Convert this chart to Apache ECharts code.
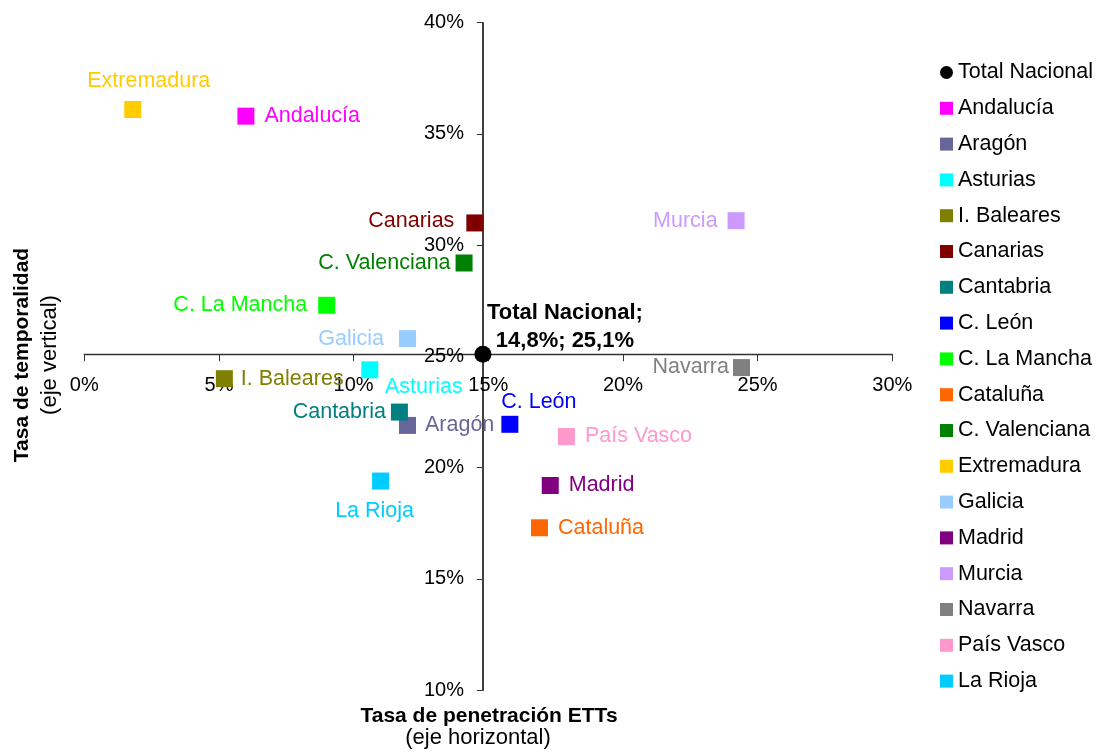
<!DOCTYPE html>
<html>
<head>
<meta charset="utf-8">
<script src="https://cdn.jsdelivr.net/npm/echarts@6/dist/echarts.min.js"></script>
<style>html,body{margin:0;padding:0;background:#fff;}#c{width:1100px;height:754px;}</style>
</head>
<body>
<div id="c"></div>
<script>
// ---- data ----
const names = ['Total Nacional','Andalucía','Aragón','Asturias','I. Baleares','Canarias','Cantabria','C. León','C. La Mancha','Cataluña','C. Valenciana','Extremadura','Galicia','Madrid','Murcia','Navarra','País Vasco','La Rioja'];
const penetracion = [14.8, 6.0, 12.0, 10.6, 5.2, 14.5, 11.7, 15.8, 9.0, 16.9, 14.1, 1.8, 12.0, 17.3, 24.2, 24.4, 17.9, 11.0];
const temporalidad = [25.1, 35.8, 21.9, 24.4, 24.0, 31.0, 22.5, 21.95, 27.3, 17.3, 29.2, 36.1, 25.8, 19.2, 31.1, 24.5, 21.4, 19.4];
const xTicks = [0, 5, 10, 15, 20, 25, 30];
const yTicks = [10, 15, 20, 25, 30, 35, 40];

// ---- styles ----
const colors = ['#000000','#FF00FF','#666699','#00FFFF','#808000','#800000','#008080','#0000FF','#00FF00','#FF6600','#008000','#FFCC00','#99CCFF','#800080','#CC99FF','#808080','#FF99CC','#00CCFF'];
const labelCfg = [
  {position:'inside', offset:[82,-27]},
  {position:'right', distance:10},
  {position:'right', distance:9},
  {position:'inside', offset:[54,17]},
  {position:'right', distance:8},
  {position:'left', distance:12, offset:[0,-2]},
  {position:'left', distance:5},
  {position:'inside', offset:[29,-22]},
  {position:'left', distance:11},
  {position:'right', distance:10},
  {position:'left', distance:5},
  {position:'inside', offset:[16,-28]},
  {position:'left', distance:15},
  {position:'right', distance:10},
  {position:'left', distance:10},
  {position:'left', distance:4},
  {position:'right', distance:10},
  {position:'inside', offset:[-6,30]}
];

const FONT = "'Liberation Sans', Arial, sans-serif";
const W = 1100, H = 754;
const gLeft = 84.3, gRight = 207.7, gTop = 22.7, gBottom = 63.8;
const gW = W - gLeft - gRight, gH = H - gTop - gBottom;
const xMin = xTicks[0], xMax = xTicks[xTicks.length-1];
const yMin = yTicks[0], yMax = yTicks[yTicks.length-1];
const crossX = penetracion[0], crossY = temporalidad[0];

const fmt = v => v.toFixed(1).replace('.', ',') + '%';

const series = names.map((n, i) => {
  const isTotal = i === 0;
  const lc = labelCfg[i];
  return {
    name: n,
    type: 'scatter',
    symbol: isTotal ? 'circle' : 'rect',
    symbolSize: 17,
    z: isTotal ? 5 : 3,
    itemStyle: {color: colors[i], opacity: 1},
    label: Object.assign({
      show: true,
      color: colors[i],
      opacity: 1,
      fontFamily: FONT,
      fontSize: isTotal ? 22 : 21.5,
      fontWeight: isTotal ? 'bold' : 'normal',
      lineHeight: isTotal ? 28 : 21,
      align: isTotal ? 'center' : undefined,
      formatter: isTotal ? (p => p.seriesName + ';\n' + fmt(p.value[0]) + '; ' + fmt(p.value[1])) : (p => p.seriesName)
    }, lc),
    emphasis: {disabled: true},
    data: [[penetracion[i], temporalidad[i]]]
  };
});

const chart = echarts.init(document.getElementById('c'), null, {renderer: 'canvas'});
chart.setOption({
  backgroundColor: '#ffffff',
  animation: false,
  textStyle: {fontFamily: FONT},
  grid: {left: gLeft, right: gRight, top: gTop, bottom: gBottom, containLabel: false},
  xAxis: {
    type: 'value', min: xMin, max: xMax, interval: 5,
    position: 'bottom',
    offset: -((crossY - yMin) / (yMax - yMin)) * gH,
    axisLine: {show: true, onZero: false, lineStyle: {color: '#333', width: 1.3}},
    axisTick: {show: true, inside: false, length: 7, lineStyle: {color: '#333'}},
    axisLabel: {color: '#000', fontSize: 20, fontFamily: FONT, margin: 21, formatter: v => v + '%'},
    splitLine: {show: false}
  },
  yAxis: {
    type: 'value', min: yMin, max: yMax, interval: 5,
    position: 'left',
    offset: -((crossX - xMin) / (xMax - xMin)) * gW,
    axisLine: {show: true, onZero: false, lineStyle: {color: '#000', width: 1.5}},
    axisTick: {show: true, inside: false, length: 6, lineStyle: {color: '#333'}},
    axisLabel: {color: '#000', fontSize: 20, fontFamily: FONT, margin: 19, formatter: v => v + '%'},
    splitLine: {show: false}
  },
  legend: {
    orient: 'vertical',
    left: 940, top: 61.5, padding: 0,
    itemWidth: 13, itemHeight: 13, itemGap: 13.8,
    textStyle: {color: '#000', fontSize: 21.5, fontFamily: FONT, lineHeight: 21},
    itemStyle: {opacity: 1},
    data: names.map((n, i) => ({name: n, icon: i === 0 ? 'circle' : 'rect'})),
    selectedMode: false
  },
  graphic: [
    {type: 'text', x: 489, y: 716, style: {text: 'Tasa de penetración ETTs', font: 'bold 21px ' + FONT, fill: '#000', align: 'center', verticalAlign: 'middle'}},
    {type: 'text', x: 478, y: 738, style: {text: '(eje horizontal)', font: '22px ' + FONT, fill: '#000', align: 'center', verticalAlign: 'middle'}},
    {type: 'text', x: 22, y: 355, rotation: Math.PI / 2, style: {text: 'Tasa de temporalidad', font: 'bold 21px ' + FONT, fill: '#000', align: 'center', verticalAlign: 'middle'}},
    {type: 'text', x: 50, y: 355, rotation: Math.PI / 2, style: {text: '(eje vertical)', font: '22px ' + FONT, fill: '#000', align: 'center', verticalAlign: 'middle'}}
  ],
  series: series
});
</script>
</body>
</html>
